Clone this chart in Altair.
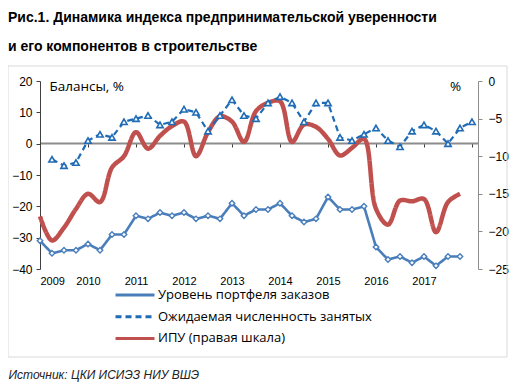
import altair as alt
import pandas as pd

# ---------------- data ----------------
years = ["2009", "2010", "2011", "2012", "2013", "2014", "2015", "2016", "2017"]
# quarter index: 0 = 2009 Q1 ... 36 = 2018 Q1

portfolio = [-31, -35, -34, -34, -32, -34, -29, -29, -23, -24, -22, -23,
             -22, -24, -23, -24, -19, -23, -21, -21, -19, -23, -25, -24,
             -17, -21, -21, -20, -33, -37, -36, -38, -36, -39, -36, -36]

expected = [None, -5, -7, -6, 1, 3, 2, 7, 8, 9, 6, 7,
            11, 10, 4, 9, 14, 9, 8, 13, 15, 13, 7, 13,
            13, 2, 1, 3, 5, 1, -1, 4, 6, 4, 0, 5, 7]

ipu = [-18, -21.2, -19.5, -17, -15, -16.1, -11.5, -10, -6.8, -9, -7.3, -6,
       -5.4, -10, -6.8, -4.7, -5.4, -8.1, -4, -2.9, -2.7, -8.1, -5.8, -6.1,
       -7.7, -9.9, -8.9, -7.7, -17, -19.1, -15.9, -16, -15.7, -20.1, -16.1, -15]

left_ticks = [-40, -30, -20, -10, 0, 10, 20]
right_ticks = [-25, -20, -15, -10, -5, 0]

S1 = "Уровень портфеля заказов"
S2 = "Ожидаемая численность занятых"
S3 = "ИПУ (правая шкала)"
TITLE = ["Рис.1. Динамика индекса предпринимательской уверенности",
         "и его компонентов в строительстве"]
SOURCE = "Источник: ЦКИ ИСИЭЗ НИУ ВШЭ"

C1, C2, C3 = "#4A7EBB", "#1F6BB5", "#C0504D"

df1 = pd.DataFrame({"q": list(range(len(portfolio))), "value": portfolio, "series": S1})
df2 = pd.DataFrame({"q": list(range(len(expected))), "value": expected, "series": S2}).dropna()
df3 = pd.DataFrame({"q": list(range(len(ipu))), "value": ipu, "series": S3})

# ---------------- scales / axes ----------------
xscale = alt.Scale(domain=[0, 36.5], nice=False, zero=False)
label_expr = "[" + ",".join("'%s'" % y for y in years) + "][datum.value / 4]"

ax_bottom = alt.Axis(orient="bottom", values=[4 * i for i in range(len(years))],
                     labelExpr=label_expr,
                     domain=False, ticks=False, grid=False, labelFontSize=11,
                     labelFont="Liberation Sans", labelColor="#000", labelPadding=6,
                     title=SOURCE, titleX=-32, titleY=105, titleAlign="left",
                     titleBaseline="middle", titleFontStyle="italic",
                     titleFontWeight="normal", titleFontSize=12,
                     titleFont="Liberation Sans", titleColor="#222")
ax_zero = alt.Axis(orient="bottom", values=[4 * i for i in range(len(years) + 1)],
                   labels=False,
                   domainColor="#8c8c8c", domainWidth=2, tickColor="#404040",
                   tickSize=4, tickWidth=1, offset=-126, grid=False, title=None)

X_b = alt.X("q:Q", scale=xscale, axis=ax_bottom)
X_z = alt.X("q:Q", scale=xscale, axis=ax_zero)

Y_l = alt.Y("value:Q", scale=alt.Scale(domain=[-40, 20], nice=False),
            axis=alt.Axis(values=left_ticks, title="Балансы, %", titleAngle=0,
                          titleX=9, titleY=5, titleAlign="left", titleBaseline="middle",
                          titleFont="Open Sans", titleFontSize=13.5,
                          titleFontWeight="normal", titleColor="#000",
                          labelFont="Liberation Sans", labelFontSize=12,
                          labelColor="#000", labelPadding=4,
                          domainColor="#404040", tickColor="#404040", tickSize=4,
                          grid=False))
Y_r = alt.Y("value:Q", scale=alt.Scale(domain=[-25, 0], nice=False),
            axis=alt.Axis(orient="right", values=right_ticks, title="%", titleAngle=0,
                          titleX=-23, titleY=5, titleAlign="center",
                          titleBaseline="middle", titleFont="Open Sans",
                          titleFontSize=13.5, titleFontWeight="normal",
                          titleColor="#000", labelFont="Liberation Sans",
                          labelFontSize=12, labelColor="#000", labelPadding=6,
                          domainColor="#8c8c8c", tickColor="#8c8c8c", tickSize=4,
                          grid=False))

cscale = alt.Scale(domain=[S1, S2, S3], range=[C1, C2, C3])
dscale = alt.Scale(domain=[S1, S2, S3], range=[[1, 0], [6, 4], [1, 0]])
COL = alt.Color("series:N", scale=cscale, legend=alt.Legend(title=None))
DASH = alt.StrokeDash("series:N", scale=dscale, legend=alt.Legend(title=None))

# ---------------- layers ----------------
frame = alt.Chart(pd.DataFrame({"a": [0]})).mark_rect(
    fillOpacity=0, stroke="#d9d9d9", strokeWidth=1
).encode(x=alt.value(-32), x2=alt.value(467), y=alt.value(-15), y2=alt.value(276))

line1 = alt.Chart(df1).mark_line(strokeWidth=2.6).encode(x=X_b, y=Y_l, color=COL, strokeDash=DASH)
pts1 = alt.Chart(df1).mark_point(shape="diamond", filled=True, fill="white", stroke=C1,
                                 strokeWidth=1.4, size=30, opacity=1).encode(x=X_b, y=Y_l)
line2 = alt.Chart(df2).mark_line(strokeWidth=2.2).encode(x=X_b, y=Y_l, color=COL, strokeDash=DASH)
pts2 = alt.Chart(df2).mark_point(shape="triangle-up", filled=True, fill="white", stroke=C2,
                                 strokeWidth=1.6, size=40, opacity=1).encode(x=X_b, y=Y_l)

left = alt.layer(frame, line1, line2, pts1, pts2)
right = alt.Chart(df3).mark_line(strokeWidth=4.5, interpolate="catmull-rom").encode(
    x=X_z, y=Y_r, color=COL, strokeDash=DASH)

chart = alt.layer(right, left).resolve_scale(y="independent").resolve_axis(
    x="independent"
).properties(
    width=438, height=188,
    padding={"left": 32, "top": 73, "right": 31, "bottom": 113},
    autosize=alt.AutoSizeParams(type="none"),
    title=alt.TitleParams(text=TITLE, anchor="start", frame="group", dx=-32, offset=12,
                          fontSize=14, font="Liberation Sans", fontWeight="bold",
                          lineHeight=29, color="#000"),
    background="white",
).configure_view(strokeWidth=0).configure_legend(
    orient="none", legendX=87, legendY=206, symbolType="M-3,0L3,0", symbolSize=169,
    symbolStrokeWidth=3, labelFont="Open Sans", labelFontSize=13, labelColor="#000",
    rowPadding=6.7, labelOffset=15, padding=0, labelLimit=0
)

chart.save("out.html", embed_options={"renderer": "svg", "actions": False})
